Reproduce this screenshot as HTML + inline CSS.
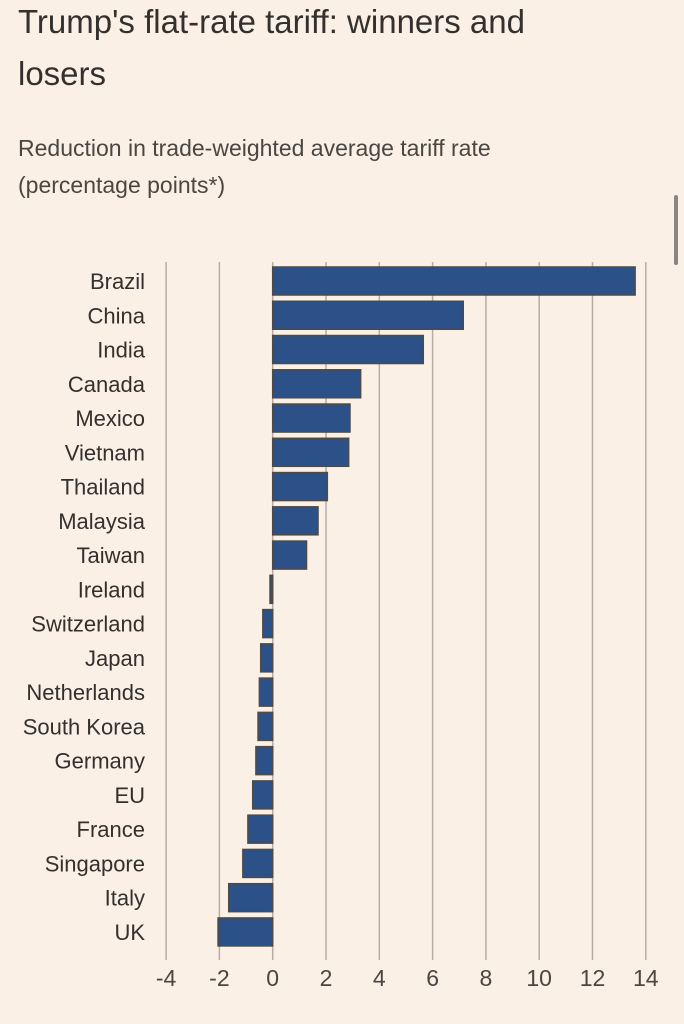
<!DOCTYPE html>
<html><head><meta charset="utf-8"><style>
body{margin:0;width:684px;height:1024px;background:#fbf0e6;overflow:hidden;font-family:"Liberation Sans",sans-serif;position:relative}
.t{position:absolute;left:18px;color:#33302e}
</style></head><body>
<div class="t" style="top:-4px;font-size:33px;line-height:52px;width:570px">Trump's flat-rate tariff: winners and losers</div>
<div class="t" style="top:130px;font-size:23px;line-height:37px;color:#4a4642">Reduction in trade-weighted average tariff rate<br>(percentage points*)</div>
<div style="position:absolute;left:674px;top:195px;width:4px;height:70px;background:#8a8582;border-radius:2px"></div>
<svg id="c" width="684" height="1024" style="position:absolute;left:0;top:0"></svg>
<script>
const countries=["Brazil","China","India","Canada","Mexico","Vietnam","Thailand","Malaysia","Taiwan","Ireland","Switzerland","Japan","Netherlands","South Korea","Germany","EU","France","Singapore","Italy","UK"];
const values=[13.6,7.15,5.65,3.3,2.9,2.85,2.05,1.7,1.27,-0.1,-0.37,-0.45,-0.5,-0.55,-0.63,-0.75,-0.93,-1.12,-1.65,-2.05];
const ticks=[-4,-2,0,2,4,6,8,10,12,14];
const svg=document.getElementById('c');const NS='http://www.w3.org/2000/svg';
const x=v=>272.7+v*26.65;const y=i=>267+i*34.26;
function mk(t,a){const e=document.createElementNS(NS,t);for(const k in a)e.setAttribute(k,a[k]);svg.appendChild(e);return e;}
ticks.forEach(t=>{
const l=mk('line',{x1:x(t),x2:x(t),y1:262,y2:960,stroke:'#b8aca3','stroke-width':1.5});


const tx=mk('text',{x:x(t),y:986,'text-anchor':'middle','font-size':23,fill:'#4a4642','font-family':'Liberation Sans, sans-serif'});tx.textContent=t;


});
countries.forEach((c,i)=>{
const v=values[i];const x0=Math.min(x(0),x(v)),w=Math.max(Math.abs(x(v)-x(0)),2);
const r=mk('rect',{x:x0,y:y(i),width:w,height:28,fill:'#2b5188',stroke:'#4d4a48','stroke-width':1.5});


const tx=mk('text',{x:145,y:y(i)+22,'text-anchor':'end','font-size':22,fill:'#33302e','font-family':'Liberation Sans, sans-serif'});tx.textContent=c;


});
</script>
</body></html>
